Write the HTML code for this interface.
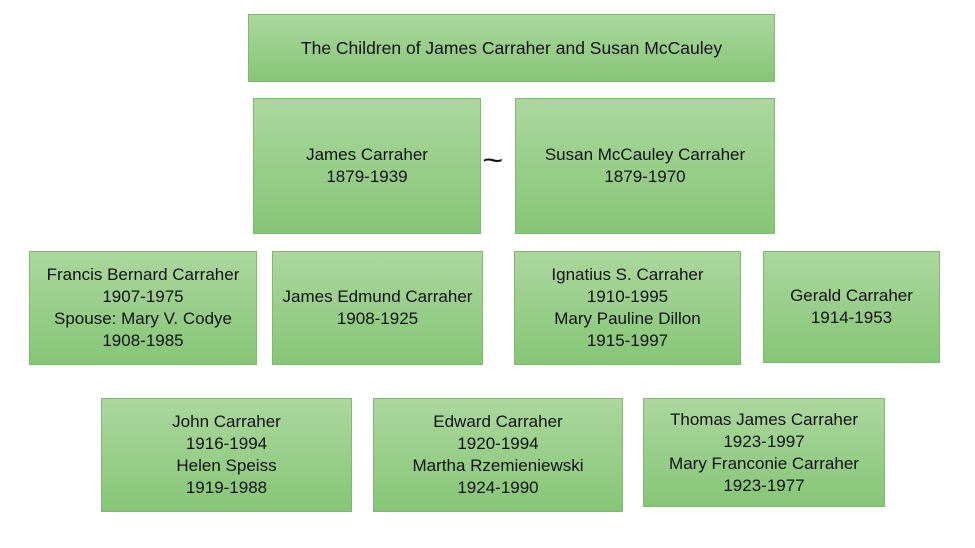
<!DOCTYPE html>
<html><head><style>
body{margin:0;width:975px;height:548px;background:#fff;position:relative;overflow:hidden;font-family:"Liberation Sans",sans-serif;}
.b{position:absolute;box-sizing:border-box;border:1px solid #7dbb6c;background:linear-gradient(#acd79e,#85c675);display:flex;align-items:center;justify-content:center;text-align:center;font-size:17px;line-height:22px;color:#111;}
</style></head><body>
<div class="b" style="left:248px;top:14px;width:527px;height:68px;font-size:17.5px">The Children of James Carraher and Susan McCauley</div>
<div class="b" style="left:253px;top:98px;width:228px;height:136px">James Carraher<br>1879-1939</div>
<div style="position:absolute;left:484px;top:146px;font-size:30px;line-height:30px;color:#111;transform:scaleX(1.2)">~</div>
<div class="b" style="left:515px;top:98px;width:260px;height:136px">Susan McCauley Carraher<br>1879-1970</div>
<div class="b" style="left:29px;top:251px;width:228px;height:114px">Francis Bernard Carraher<br>1907-1975<br>Spouse: Mary V. Codye<br>1908-1985</div>
<div class="b" style="left:272px;top:251px;width:211px;height:114px">James Edmund Carraher<br>1908-1925</div>
<div class="b" style="left:514px;top:251px;width:227px;height:114px">Ignatius S. Carraher<br>1910-1995<br>Mary Pauline Dillon<br>1915-1997</div>
<div class="b" style="left:763px;top:251px;width:177px;height:112px">Gerald Carraher<br>1914-1953</div>
<div class="b" style="left:101px;top:398px;width:251px;height:114px">John Carraher<br>1916-1994<br>Helen Speiss<br>1919-1988</div>
<div class="b" style="left:373px;top:398px;width:250px;height:114px">Edward Carraher<br>1920-1994<br>Martha Rzemieniewski<br>1924-1990</div>
<div class="b" style="left:643px;top:398px;width:242px;height:109px">Thomas James Carraher<br>1923-1997<br>Mary Franconie Carraher<br>1923-1977</div>
</body></html>
